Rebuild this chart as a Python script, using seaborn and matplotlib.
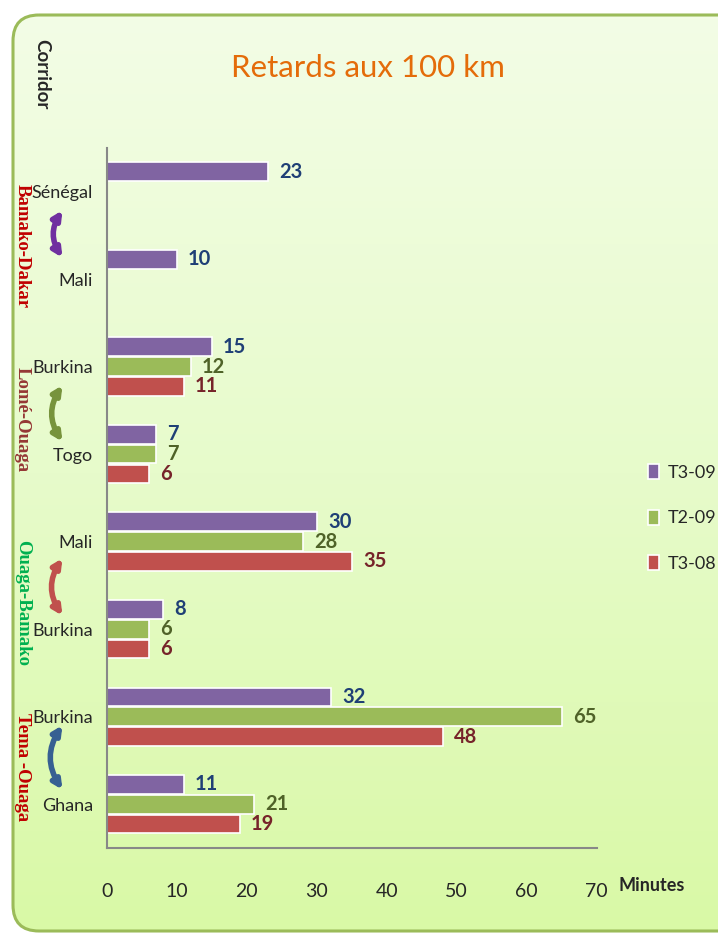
import numpy as np
import pandas as pd
import seaborn as sns
import matplotlib.pyplot as plt
from matplotlib.patches import FancyBboxPatch
from matplotlib.colors import LinearSegmentedColormap

# data, top to bottom
slots = ["s8", "s7", "s6", "s5", "s4", "s3", "s2", "s1"]
countries = ["Sénégal", "Mali", "Burkina", "Togo", "Mali", "Burkina", "Burkina", "Ghana"]
t3_09 = [23, 10, 15, 7, 30, 8, 32, 11]
t2_09 = [np.nan, np.nan, 12, 7, 28, 6, 65, 21]
t3_08 = [np.nan, np.nan, 11, 6, 35, 6, 48, 19]
series = ["T3-09", "T2-09", "T3-08"]
corridors = ["Bamako-Dakar", "Lomé-Ouaga", "Ouaga-Bamako", "Tema -Ouaga"]

colors = {"T3-09": "#8064A2", "T2-09": "#9BBB59", "T3-08": "#C0504D"}
label_colors = ["#1F3F76", "#4F6228", "#76232A"]
corridor_colors = ["#C00000", "#953735", "#00B050", "#C00000"]
brace_colors = ["#7030A0", "#77933C", "#C0504D", "#376092"]

rows = []
for name, vals in zip(series, [t3_09, t2_09, t3_08]):
    for s, v in zip(slots, vals):
        if not np.isnan(v):
            rows.append({"slot": s, "Minutes": v, "serie": name})
df = pd.DataFrame(rows)

sns.set_style("white")
plt.rcParams["font.family"] = ["Lato", "DejaVu Sans"]

fig = plt.figure(figsize=(7.18, 9.35), dpi=100)
fig.patch.set_facecolor("white")

# background panel with gradient
bg = fig.add_axes([0, 0, 1, 1], zorder=-2)
bg.set_xlim(0, 718)
bg.set_ylim(935, 0)
bg.axis("off")
panel = FancyBboxPatch((13, 15), 780, 916, boxstyle="round,pad=0,rounding_size=26",
                       facecolor="none", edgecolor="#9BBB59", linewidth=2.2)
bg.add_patch(panel)
grad = np.linspace(0, 1, 256).reshape(-1, 1)
cmap = LinearSegmentedColormap.from_list("bg", ["#F3FDE6", "#E7FBCB", "#D9F9A6"])
im = bg.imshow(grad, cmap=cmap, aspect="auto", extent=(13, 793, 931, 15), zorder=0)
im.set_clip_path(panel)

ax = fig.add_axes([0.149, 0.093, 0.682, 0.749])
ax.patch.set_alpha(0)

sns.barplot(data=df, y="slot", x="Minutes", hue="serie", hue_order=series, order=slots,
            palette=colors, saturation=1, orient="h", width=0.68, gap=0.06,
            edgecolor="white", linewidth=1.2, ax=ax)

for cont, c in zip(ax.containers, label_colors):
    ax.bar_label(cont, fmt="%d", padding=8, color=c, fontsize=14.5, fontweight="bold")

ax.set_xlim(0, 70)
ax.set_ylim(7.5, -0.5)
ax.set_xticks(range(0, 80, 10))
ax.tick_params(axis="x", length=7, width=1.5, color="#888888", pad=18, labelsize=14)
ax.set_yticks(range(8))
ax.set_yticklabels(countries, fontsize=13)
ax.tick_params(axis="y", length=0, pad=10)
ax.set_yticks(np.arange(-0.5, 8, 1), minor=True)
ax.tick_params(axis="y", which="minor", length=6, width=1.5, color="#888888")
ax.set_xlabel("")
ax.set_ylabel("")
for side in ["top", "right"]:
    ax.spines[side].set_visible(False)
for side in ["left", "bottom"]:
    ax.spines[side].set_color("#888888")
    ax.spines[side].set_linewidth(1.5)

ax.legend(loc="center left", bbox_to_anchor=(0.88, 0.446), bbox_transform=fig.transFigure,
          frameon=False, fontsize=13, labelspacing=1.6, handlelength=0.6, handleheight=0.9,
          handletextpad=0.5)

fig.text(0.512, 0.927, "Retards aux 100 km", color="#E46C0A", fontsize=22.5,
         ha="center", va="center")
fig.text(0.908, 0.053, "Minutes", fontsize=13, fontweight="bold", ha="center", va="center")
fig.text(0.058, 0.921, "Corridor", fontsize=13.5, fontweight="bold", rotation=-90,
         ha="center", va="center")

# corridor names and curved arrows
corr_y = [246, 420, 603, 767]
for name, y, c in zip(corridors, corr_y, corridor_colors):
    fig.text(0.031, 1 - y / 935, name, color=c, fontsize=13.5, fontweight="bold",
             rotation=-90, ha="center", va="center", family="Liberation Serif")

brace_y = [(208, 260), (383, 444), (556, 618), (723, 792)]
for (y0, y1), c in zip(brace_y, brace_colors):
    bg.annotate("", xy=(64, y1), xytext=(64, y0),
                arrowprops=dict(arrowstyle="<|-|>,head_length=0.5,head_width=0.25",
                                connectionstyle="arc3,rad=0.35", color=c, lw=4))

fig.savefig("out.png", dpi=100)
